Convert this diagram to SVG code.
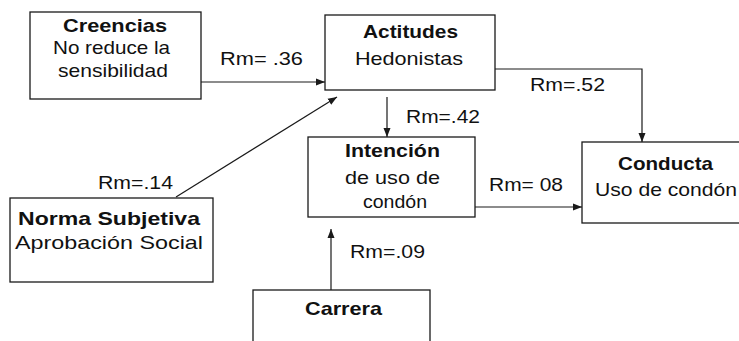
<svg xmlns="http://www.w3.org/2000/svg" width="739" height="341" viewBox="0 0 739 341">
  <style>
    .box { fill: #fff; stroke: #1a1a1a; stroke-width: 1.3; }
    .edge { fill: none; stroke: #1a1a1a; stroke-width: 1.2; }
    text { font-family: "Liberation Sans", Arial, sans-serif; font-size: 18.5px; fill: #111; }
    .title { font-weight: bold; }
  </style>
  <defs>
    <marker id="arrow" markerUnits="userSpaceOnUse" markerWidth="10" markerHeight="8" refX="9" refY="4" orient="auto">
      <path d="M0,0.5 L9,4 L0,7.5 Z" fill="#1a1a1a"/>
    </marker>
  </defs>
  <rect width="739" height="341" fill="#fff"/>

  <!-- connectors and their coefficients -->
  <g id="connectors">
    <line class="edge" x1="201" y1="82" x2="325" y2="82" marker-end="url(#arrow)"/>
    <line class="edge" x1="176" y1="197" x2="337" y2="97" marker-end="url(#arrow)"/>
    <line class="edge" x1="387" y1="97" x2="387" y2="137" marker-end="url(#arrow)"/>
    <polyline class="edge" points="495,69 642,69 642,142" marker-end="url(#arrow)"/>
    <line class="edge" x1="475" y1="207" x2="582" y2="207" marker-end="url(#arrow)"/>
    <line class="edge" x1="331" y1="290" x2="331" y2="229" marker-end="url(#arrow)"/>
    <text x="220" y="65" textLength="83" lengthAdjust="spacingAndGlyphs">Rm= .36</text>
    <text x="98" y="189" textLength="75" lengthAdjust="spacingAndGlyphs">Rm=.14</text>
    <text x="406" y="123" textLength="74" lengthAdjust="spacingAndGlyphs">Rm=.42</text>
    <text x="530" y="91" textLength="75" lengthAdjust="spacingAndGlyphs">Rm=.52</text>
    <text x="489" y="191" textLength="74" lengthAdjust="spacingAndGlyphs">Rm= 08</text>
    <text x="350" y="258" textLength="75" lengthAdjust="spacingAndGlyphs">Rm=.09</text>
  </g>

  <!-- nodes -->
  <g id="creencias">
    <rect class="box" x="30" y="12" width="171" height="87"/>
    <text class="title" x="63" y="32" textLength="104" lengthAdjust="spacingAndGlyphs">Creencias</text>
    <text x="53" y="54" textLength="117" lengthAdjust="spacingAndGlyphs">No reduce la</text>
    <text x="58" y="77" textLength="110" lengthAdjust="spacingAndGlyphs">sensibilidad</text>
  </g>

  <g id="actitudes">
    <rect class="box" x="325" y="15" width="170" height="75"/>
    <text class="title" x="363" y="38" textLength="95" lengthAdjust="spacingAndGlyphs">Actitudes</text>
    <text x="355" y="65" textLength="108" lengthAdjust="spacingAndGlyphs">Hedonistas</text>
  </g>

  <g id="intencion">
    <rect class="box" x="308" y="137" width="167" height="80"/>
    <text class="title" x="345" y="157" textLength="95" lengthAdjust="spacingAndGlyphs">Intención</text>
    <text x="345" y="184" textLength="95" lengthAdjust="spacingAndGlyphs">de uso de</text>
    <text x="363" y="208" textLength="64" lengthAdjust="spacingAndGlyphs">condón</text>
  </g>

  <g id="conducta">
    <rect class="box" x="582" y="142" width="160" height="81"/>
    <text class="title" x="618" y="170" textLength="95" lengthAdjust="spacingAndGlyphs">Conducta</text>
    <text x="595" y="196" textLength="142" lengthAdjust="spacingAndGlyphs">Uso de condón</text>
  </g>

  <g id="norma">
    <rect class="box" x="10" y="198" width="203" height="84"/>
    <text class="title" x="18" y="225" textLength="182" lengthAdjust="spacingAndGlyphs">Norma Subjetiva</text>
    <text x="15" y="249" textLength="188" lengthAdjust="spacingAndGlyphs">Aprobación Social</text>
  </g>

  <g id="carrera">
    <rect class="box" x="253" y="290" width="177" height="60"/>
    <text class="title" x="305" y="315" textLength="77" lengthAdjust="spacingAndGlyphs">Carrera</text>
  </g>
</svg>
